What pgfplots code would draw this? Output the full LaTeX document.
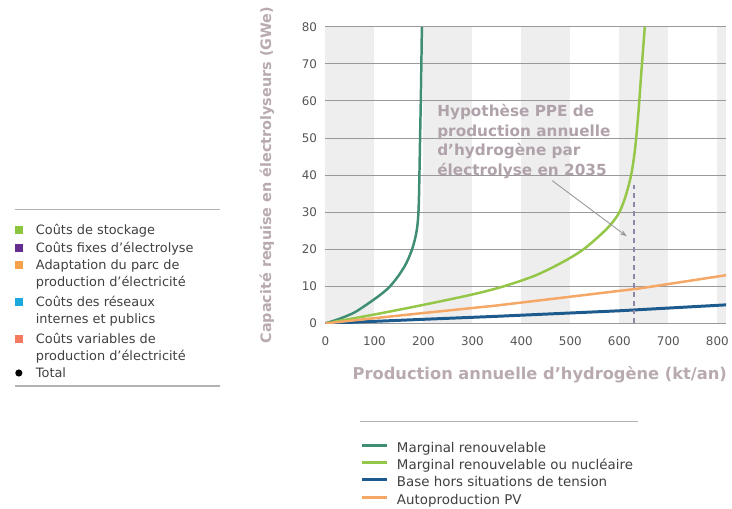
\documentclass[border=0pt]{standalone}
\usepackage{fontspec}
\setmainfont{DejaVu Sans}
\usepackage{pgfplots}
\pgfplotsset{compat=1.18}
\usetikzlibrary{arrows.meta}
\definecolor{cTeal}{HTML}{3F8E74}
\definecolor{cLgreen}{HTML}{94C748}
\definecolor{cBlue}{HTML}{1D5A8E}
\definecolor{cOrange}{HTML}{F5A766}
\definecolor{cStripe}{HTML}{EFEEEF}
\definecolor{cGrid}{HTML}{999999}
\definecolor{cLabel}{HTML}{B8AAB0}
\definecolor{cAnnot}{HTML}{B0A2AA}
\definecolor{cTick}{HTML}{555555}
\definecolor{cLegText}{HTML}{404040}
\definecolor{sqGreen}{HTML}{8CC63F}
\definecolor{sqPurple}{HTML}{662D91}
\definecolor{sqOrange}{HTML}{F7A24B}
\definecolor{sqCyan}{HTML}{1BA9DE}
\definecolor{sqSalmon}{HTML}{F47A60}
\definecolor{cDash}{HTML}{8E88A8}
\begin{document}
\begin{tikzpicture}[x=1pt,y=1pt]
\path (0,0) rectangle (732,513);
% ---- left legend (cost components) ----
\draw[gray!60, line width=1.5pt] (15,302) -- (222,302);
\draw[gray!60, line width=1.5pt] (15,124) -- (222,124);
\begin{scope}[yshift=-2pt, every node/.style={anchor=base west, inner sep=0pt, font=\fontsize{13}{15}\selectfont, text=cLegText}]
\fill[sqGreen]  (15,279) rectangle (23,287);
\node at (36,278.5) {Coûts de stockage};
\fill[sqPurple] (15,261) rectangle (23,269);
\node at (36,260.5) {Coûts fixes d’électrolyse};
\fill[sqOrange] (15,244) rectangle (23,252);
\node at (36,243.5) {Adaptation du parc de};
\node at (36,226) {production d’électricité};
\fill[sqCyan]   (15,207) rectangle (23,215);
\node at (36,206.5) {Coûts des réseaux};
\node at (36,189) {internes et publics};
\fill[sqSalmon] (15,169) rectangle (23,177);
\node at (36,168.5) {Coûts variables de};
\node at (36,151.5) {production d’électricité};
\fill[black] (19,139) circle (3.6);
\node at (36,134.5) {Total};
\end{scope}
% bottom legend rule
\draw[gray!60, line width=1.5pt] (363,88) -- (643,88);
\begin{axis}[
  at={(328pt,187pt)}, anchor=south west,
  scale only axis, width=404pt, height=299pt,
  xmin=0, xmax=818, ymin=0, ymax=80,
  set layers,
  axis line style={draw=none},
  ymajorgrids, grid style={cGrid, line width=1pt},
  xtick={0,100,...,800}, ytick={0,10,...,80},
  major tick length=0pt,
  tick label style={font=\fontsize{12}{14}\selectfont, text=cTick},
  /pgf/number format/assume math mode=true,
  yticklabel style={xshift=-5pt},
  xticklabel style={yshift=-10pt},
  xlabel={Production annuelle d'hydrogène (kt/an)},
  ylabel={Capacité requise en électrolyseurs (GWe)},
  xlabel style={at={(axis description cs:0.535,-0.174)}, anchor=center, font=\bfseries\fontsize{16.4}{18}\selectfont, text=cLabel},
  ylabel style={at={(axis description cs:-0.146,0.5)}, anchor=center, font=\bfseries\fontsize{14.5}{16}\selectfont, text=cLabel},
  legend style={at={(axis description cs:0.0866,-0.400)}, anchor=north west, draw=none, fill=none, inner sep=0pt, row sep=4.5pt, column sep=9pt,
    nodes={inner sep=0pt, text height=10pt, text depth=3pt, font=\fontsize{13.5}{15}\selectfont, text=cLegText}},
  legend cell align=left,
  legend image code/.code={\draw[#1, line width=3pt] (0pt,3.7pt) -- (25pt,3.7pt);},
]
\begin{pgfonlayer}{axis background}
\fill[cStripe] (axis cs:0,0) rectangle (axis cs:100,80);
\fill[cStripe] (axis cs:200,0) rectangle (axis cs:300,80);
\fill[cStripe] (axis cs:400,0) rectangle (axis cs:500,80);
\fill[cStripe] (axis cs:600,0) rectangle (axis cs:700,80);
\fill[cStripe] (axis cs:800,0) rectangle (axis cs:818,80);
\end{pgfonlayer}
\addplot[cTeal, line width=2.5pt, smooth, tension=0.5] coordinates {
(0,0) (30,1.3) (60,3) (90,5.6) (115,8) (132,10) (150,13) (165,16.2) (177,20) (185,24) (189,28) (191,34) (193,48) (195,62) (197,80)};
\addlegendentry{Marginal renouvelable}
\addplot[cLgreen, line width=2.5pt, smooth, tension=0.5] coordinates {
(0,0) (100,2.4) (200,5) (300,7.8) (364,10) (430,13) (488,16.8) (530,20.3) (575,25.6) (598,29.5) (612,34) (624,40) (632,47) (639,57) (645,68) (652,80)};
\addlegendentry{Marginal renouvelable ou nucléaire}
\addplot[cBlue, line width=3pt] coordinates {
(0,0) (200,1.1) (348,1.9) (600,3.4) (818,5)};
\addlegendentry{Base hors situations de tension}
\addplot[cOrange, line width=2.5pt] coordinates {
(0,0) (200,2.8) (348,4.8) (640,9.4) (818,13)};
\addlegendentry{Autoproduction PV}
\addplot[cDash, line width=1.5pt, dash pattern=on 5pt off 4pt, forget plot] coordinates {(630,0) (630,38)};
\draw[-{Stealth[length=7pt,width=5pt]}, gray!80, line width=0.9pt] (axis cs:463,38.5) -- (axis cs:615,23.5);
\node[anchor=north west, inner sep=0pt, align=left, font=\bfseries\fontsize{15.4}{20}\selectfont, text=cAnnot] at (axis cs:228,59.2)
  {Hypothèse PPE de\\production annuelle\\d’hydrogène par\\électrolyse en 2035};
\end{axis}
\end{tikzpicture}
\end{document}
